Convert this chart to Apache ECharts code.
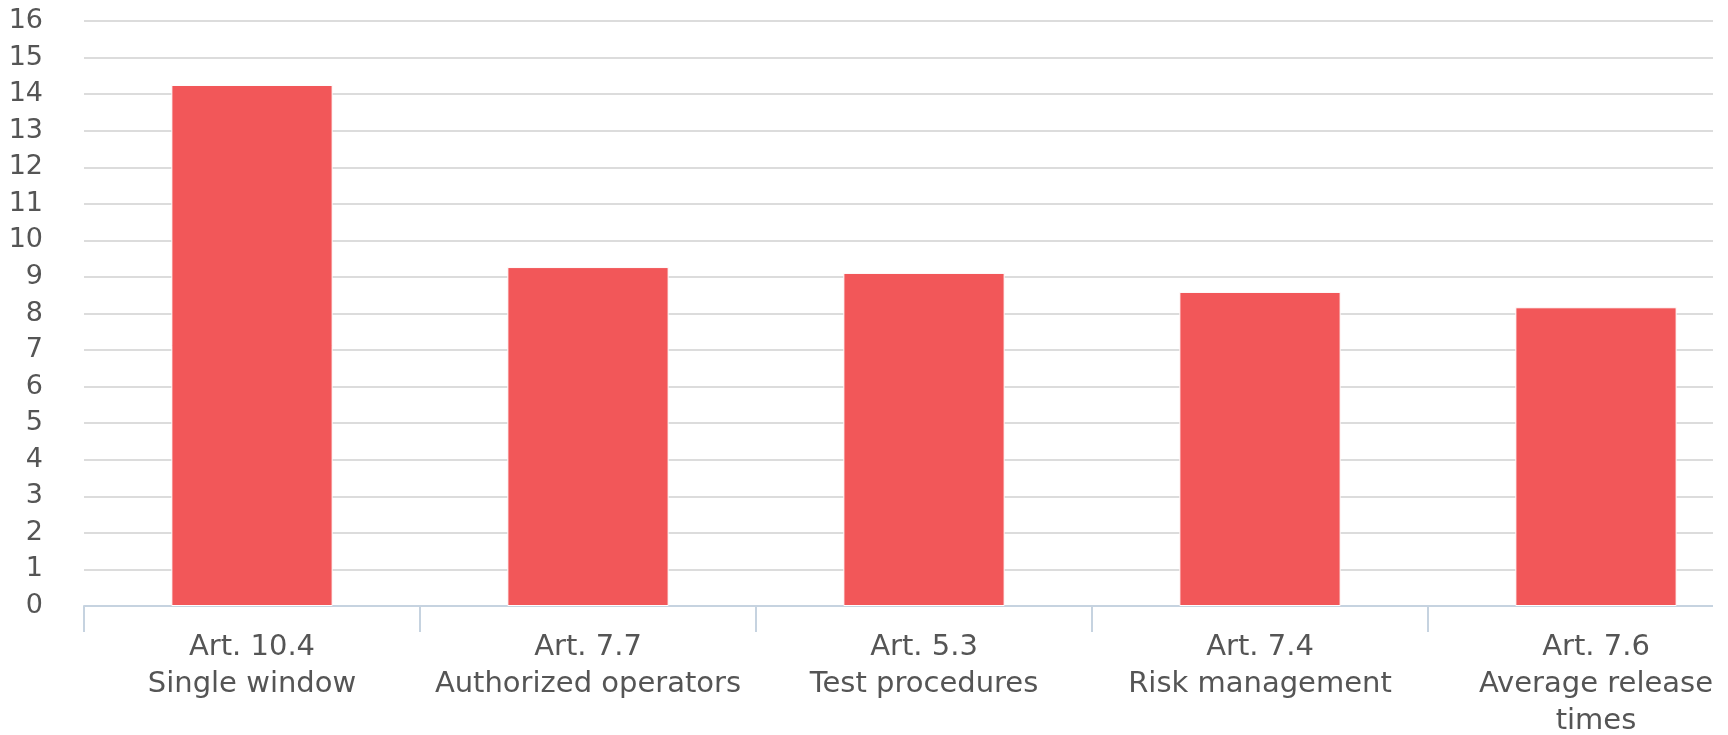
<!DOCTYPE html>
<html>
<head>
<meta charset="utf-8">
<script src="https://cdn.jsdelivr.net/npm/echarts@6/dist/echarts.min.js"></script>
<style>
  html, body { margin: 0; padding: 0; background: #fff; }
  #chart { width: 1728px; height: 735px; }
</style>
</head>
<body>
<div id="chart"></div>
<script>
// data
var categories = [
    'Art. 10.4\nSingle window',
    'Art. 7.7\nAuthorized operators',
    'Art. 5.3\nTest procedures',
    'Art. 7.4\nRisk management',
    'Art. 7.6\nAverage release\ntimes'
];
var values = [14.25, 9.27, 9.11, 8.59, 8.17];
var yTicks = { min: 0, max: 16, step: 1 };

var chart = echarts.init(document.getElementById('chart'));
var option = {
    animation: false,
    // plot area runs past the right edge (reference is cropped there)
    grid: {
        left: 84, width: 1680, top: 21, bottom: 129,
        containLabel: false, outerBoundsMode: 'none'
    },
    xAxis: {
        type: 'category',
        data: categories,
        axisLine: { lineStyle: { color: '#c6d3e0', width: 2 } },
        axisTick: { show: true, length: 26, lineStyle: { color: '#c6d3e0', width: 2 } },
        axisLabel: {
            color: '#555', fontFamily: 'DejaVu Sans', fontSize: 29,
            lineHeight: 37, margin: 23, interval: 0
        }
    },
    yAxis: {
        type: 'value',
        min: yTicks.min, max: yTicks.max, interval: yTicks.step,
        axisLine: { show: false },
        axisTick: { show: false },
        axisLabel: { color: '#555', fontFamily: 'DejaVu Sans', fontSize: 27, margin: 41 },
        splitLine: { lineStyle: { color: '#dcdcdc', width: 2 } }
    },
    series: [{
        type: 'bar',
        data: values,
        barWidth: '48%',
        itemStyle: { color: '#f25759', borderColor: '#fff', borderWidth: 1 }
    }],
    graphic: [{
        type: 'rect', left: 1713, top: 0, z: 100,
        shape: { width: 15, height: 735 },
        style: { fill: '#fff' }
    }]
};
chart.setOption(option);
</script>
</body>
</html>
